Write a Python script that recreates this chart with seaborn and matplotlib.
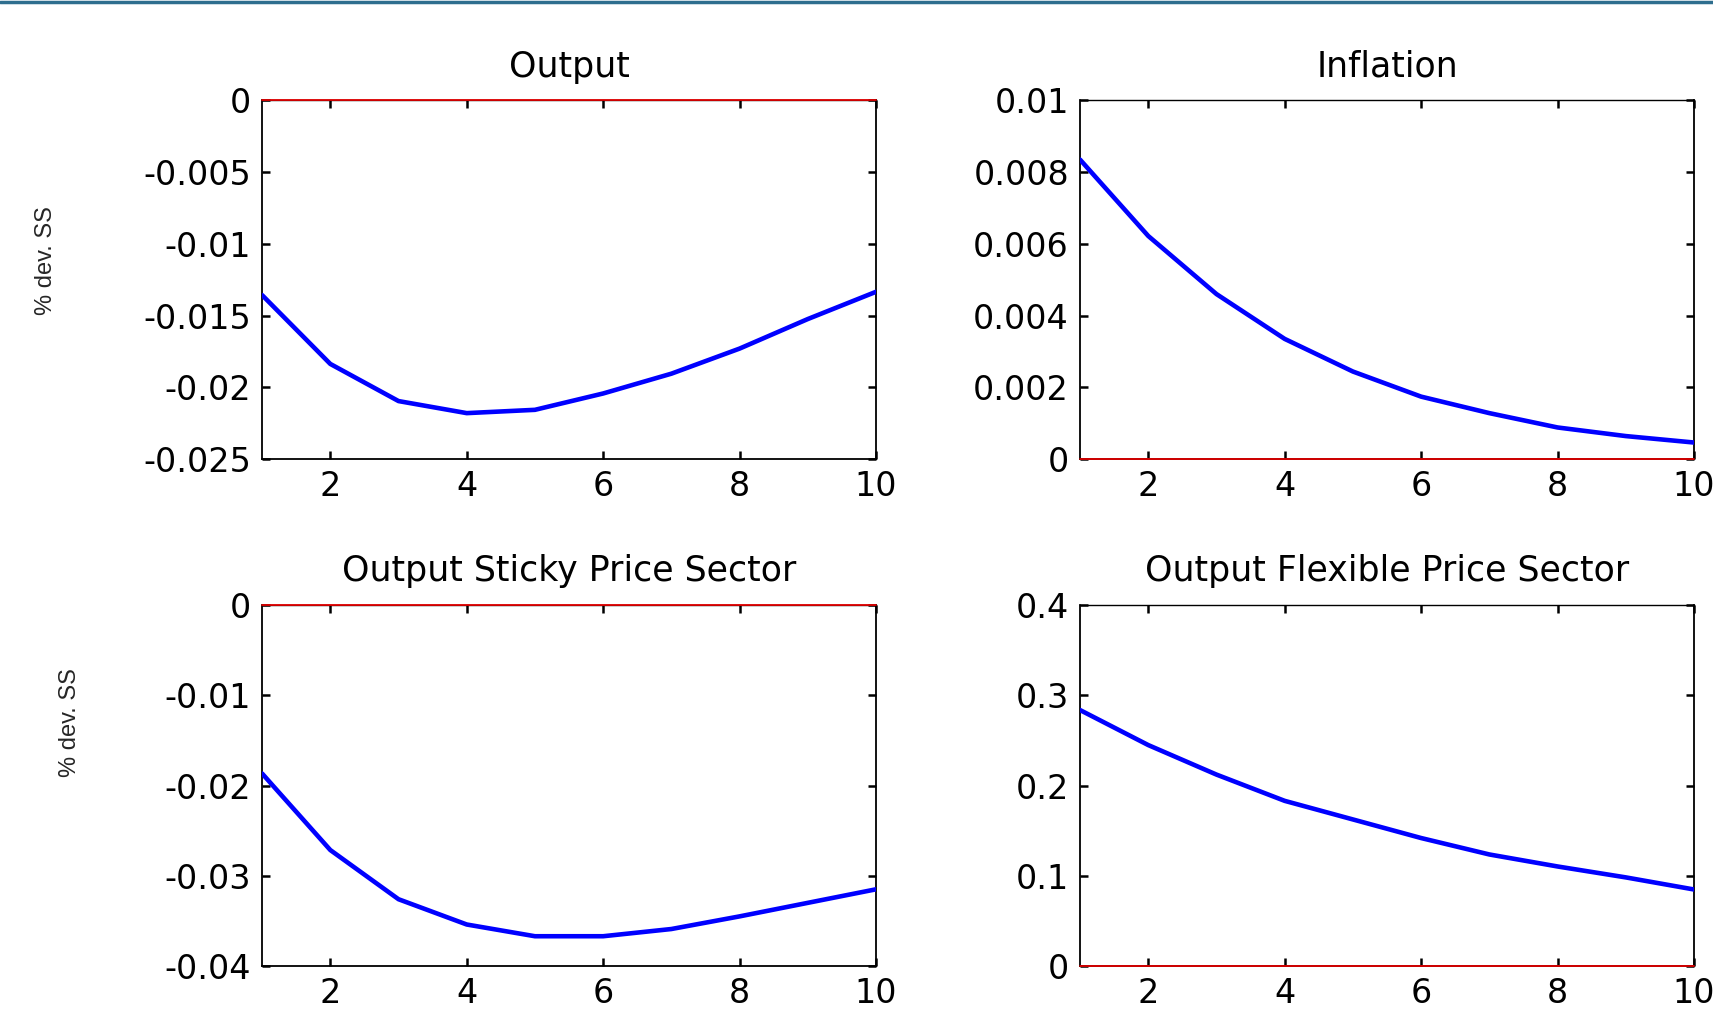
import numpy as np
import pandas as pd
import seaborn as sns
import matplotlib.pyplot as plt
from matplotlib.lines import Line2D
from matplotlib.ticker import FormatStrFormatter

# impulse responses (quarters 1..10)
quarters = list(range(1, 11))
output = [-0.01357, -0.01837, -0.02096, -0.0218, -0.02157, -0.02043, -0.01905, -0.0173, -0.01524, -0.01334]
inflation = [0.00835, 0.00622, 0.0046, 0.00335, 0.00244, 0.00174, 0.00128, 0.00088, 0.00064, 0.00046]
output_sticky = [-0.01867, -0.02715, -0.0326, -0.0354, -0.0367, -0.0367, -0.0359, -0.0345, -0.033, -0.0315]
output_flex = [0.2836, 0.2448, 0.2121, 0.183, 0.1624, 0.1418, 0.1236, 0.1103, 0.0982, 0.0848]

titles = ["Output", "Inflation", "Output Sticky Price Sector", "Output Flexible Price Sector"]
series = [output, inflation, output_sticky, output_flex]
yticks = [
    [-0.025, -0.02, -0.015, -0.01, -0.005, 0],
    [0, 0.002, 0.004, 0.006, 0.008, 0.01],
    [-0.04, -0.03, -0.02, -0.01, 0],
    [0, 0.1, 0.2, 0.3, 0.4],
]
xticks = [2, 4, 6, 8, 10]

sns.set_style("ticks")
plt.rcParams["font.family"] = ["DejaVu Sans"]
plt.rcParams["axes.unicode_minus"] = False

fig = plt.figure(figsize=(17.13, 10.23), dpi=100)

# axes boxes [left, bottom, width, height] in figure fraction
boxes = [
    [0.1530, 0.5513, 0.3584, 0.3505],
    [0.6305, 0.5513, 0.3584, 0.3505],
    [0.1530, 0.0557, 0.3584, 0.3529],
    [0.6305, 0.0557, 0.3584, 0.3529],
]

for i in range(4):
    ax = fig.add_axes(boxes[i])
    df = pd.DataFrame({"q": quarters, "v": series[i]})
    ax.axhline(0, color="#e00000", lw=1.3, zorder=5, clip_on=False)
    sns.lineplot(data=df, x="q", y="v", ax=ax, color="#0000ff", lw=3.3, zorder=4)
    ax.set_xlim(1, 10)
    ax.set_ylim(yticks[i][0], yticks[i][-1])
    ax.set_xticks(xticks)
    ax.set_yticks(yticks[i])
    ax.yaxis.set_major_formatter(FormatStrFormatter("%g"))
    ax.tick_params(direction="in", top=True, right=True, length=6, width=1.8,
                   labelsize=24, pad=8, colors="black")
    for s in ax.spines.values():
        s.set_linewidth(1.3)
        s.set_color("black")
    ax.spines["top"].set_linewidth(1.0)
    ax.set_title(titles[i], fontsize=25, pad=17, color="black")
    ax.set_xlabel("")
    ax.set_ylabel("")

fig.text(0.027, 0.745, "% dev. SS", rotation=90, fontsize=17, va="center", ha="center",
         family="Liberation Sans")
fig.text(0.041, 0.294, "% dev. SS", rotation=90, fontsize=17, va="center", ha="center",
         family="Liberation Sans")
fig.text(0.807, -0.010, "quarters", fontsize=16, va="center", ha="center",
         family="Liberation Sans", color="#555555")

# thin banner line at the very top
fig.add_artist(Line2D([0, 1], [0.9985, 0.9985], color="#2e6e8e", lw=2.5,
                      transform=fig.transFigure))

fig.savefig("out.png", dpi=100)
